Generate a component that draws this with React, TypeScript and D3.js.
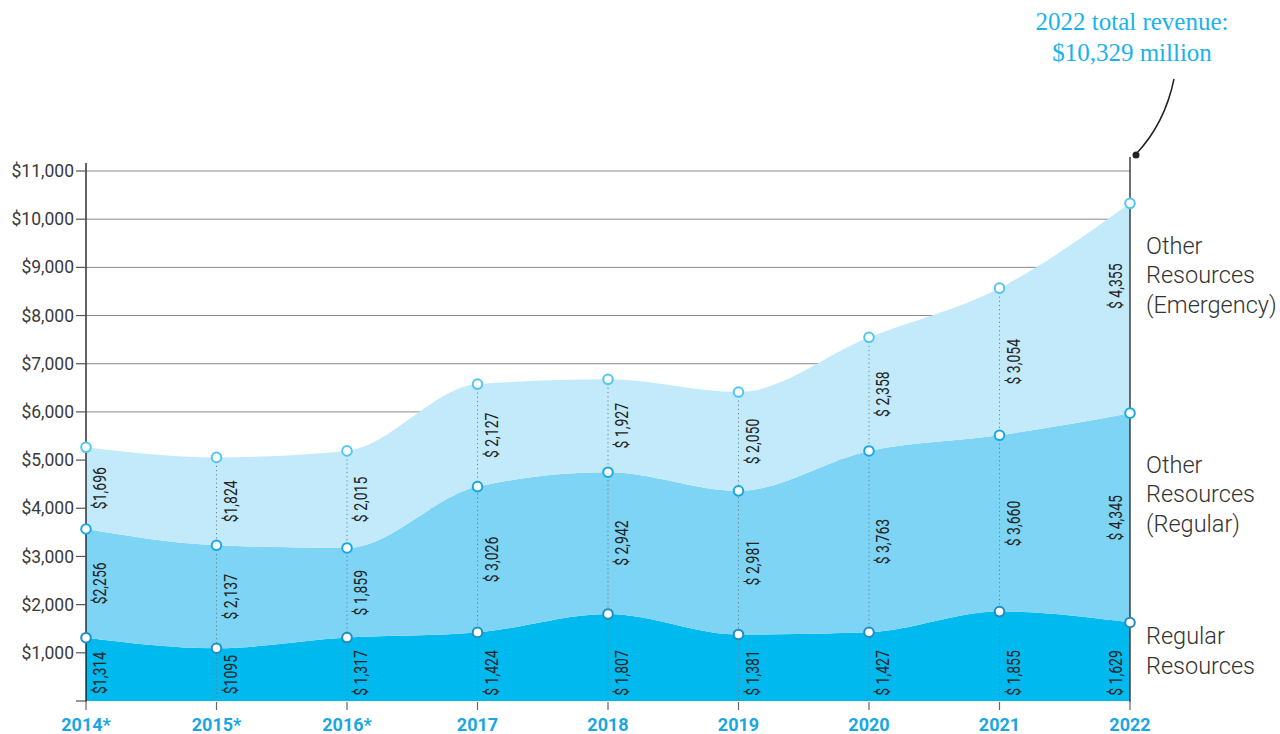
import React from "react";
import * as d3 from "d3";

// values in $ millions
const years = ["2014*", "2015*", "2016*", "2017", "2018", "2019", "2020", "2021", "2022"];
const regular = [1314, 1095, 1317, 1424, 1807, 1381, 1427, 1855, 1629];
const otherRegular = [2256, 2137, 1859, 3026, 2942, 2981, 3763, 3660, 4345];
const otherEmergency = [1696, 1824, 2015, 2127, 1927, 2050, 2358, 3054, 4355];
const yTicks = [0, 1000, 2000, 3000, 4000, 5000, 6000, 7000, 8000, 9000, 10000, 11000];

const seriesNames = ["Regular Resources", "Other Resources (Regular)", "Other Resources (Emergency)"];
const rightLabelLines = [["Regular", "Resources"], ["Other", "Resources", "(Regular)"], ["Other", "Resources", "(Emergency)"]];
const fills = ["#00b9ef", "#7dd4f4", "#c2eafa"];
const markerStrokes = ["#1a8ec6", "#15a8e6", "#4fc7f1"];

const W = 1280, H = 734;
const left = 86, right = 1130, top = 171, bottom = 701;

export default function App() {
  const x = d3.scalePoint<string>().domain(years).range([left, right]);
  const y = d3.scaleLinear().domain([0, 11000]).range([bottom, top]);

  const rows = years.map((yr, i) => ({ year: yr, r0: regular[i], r1: otherRegular[i], r2: otherEmergency[i] }));
  const stack = d3.stack<any>().keys(["r0", "r1", "r2"]);
  const layers = stack(rows);

  const area = d3.area<any>()
    .x((d) => x(d.data.year)!)
    .y0((d) => y(d[0]))
    .y1((d) => y(d[1]))
    .curve(d3.curveMonotoneX);

  const fmt = d3.format(",");
  const label = (v: number, li: number, i: number) => {
    if (i === 0) return "$" + fmt(v);
    if (i === 1 && li === 0) return "$" + v; // printed without comma
    if (i === 1 && li === 2) return "$" + fmt(v);
    return "$ " + fmt(v);
  };

  const total = layers[2].map((d) => d[1]);
  const n = years.length;
  const lastX = x(years[n - 1])!;

  // vertical centre of the right-hand series labels
  const rightLabelY = [651, 494, 275];

  return (
    <svg width={W} height={H} style={{ position: "absolute", left: 0, top: 0 }}>
      {/* grid */}
      {yTicks.filter((t) => t > 0).map((t) => (
        <line key={t} x1={left} x2={right} y1={y(t)} y2={y(t)} stroke="#8a8a8a" strokeWidth={1} />
      ))}

      {/* stacked areas */}
      {layers.map((layer, li) => (
        <path key={li} d={area(layer) || ""} fill={fills[li]} />
      ))}

      {/* dotted year guides */}
      {years.map((yr, i) =>
        i > 0 && i < n - 1 ? (
          <line key={yr} x1={x(yr)} x2={x(yr)} y1={y(total[i])} y2={bottom}
            stroke="#6f7f88" strokeWidth={1} strokeDasharray="1.2,3" />
        ) : null
      )}

      {/* axes */}
      <line x1={left} x2={left} y1={163} y2={bottom + 1} stroke="#111" strokeWidth={1.3} />
      <line x1={right} x2={right} y1={157} y2={bottom + 1} stroke="#222" strokeWidth={1.3} />
      {yTicks.map((t) => (
        <g key={t}>
          <line x1={left - 10} x2={left} y1={y(t)} y2={y(t)} stroke="#555" strokeWidth={1.2} />
          {t > 0 && (
            <text x={left - 12} y={y(t)} dy="0.35em" textAnchor="end" fontFamily="Roboto" fontSize={17.5} fill="#3a3a3a">
              {"$" + fmt(t)}
            </text>
          )}
        </g>
      ))}
      {years.map((yr) => (
        <g key={yr}>
          <line x1={x(yr)} x2={x(yr)} y1={bottom + 1} y2={bottom + 9} stroke="#666" strokeWidth={1.2} />
          <text x={x(yr)} y={731} textAnchor="middle" fontFamily="Roboto" fontWeight={700} fontSize={18} fill="#1aa6e4">
            {yr}
          </text>
        </g>
      ))}

      {/* value labels */}
      {layers.map((layer, li) =>
        layer.map((d, i) => {
          const cx = x(years[i])! + (i === n - 1 ? -14 : 14);
          let cy = (y(d[0]) + y(d[1])) / 2;
          if (li === 0) cy = Math.max(cy, bottom - 28);
          if (li === 2 && i === n - 1) cy -= 22;
          const v = d[1] - d[0];
          return (
            <text key={li + "-" + i} transform={`translate(${cx},${cy}) rotate(-90) scale(0.8,1)`}
              textAnchor="middle" dy="0.35em" fontFamily="Roboto" fontSize={17.5} fill="#222">
              {label(v, li, i)}
            </text>
          );
        })
      )}

      {/* markers */}
      {layers.map((layer, li) =>
        layer.map((d, i) => (
          <circle key={"m" + li + "-" + i} cx={x(years[i])} cy={y(d[1])} r={4.8}
            fill="#fff" stroke={markerStrokes[li]} strokeWidth={2} />
        ))
      )}

      {/* right-side series labels */}
      {rightLabelLines.map((lines, li) => (
        <text key={"rl" + li} x={1146} y={rightLabelY[li] - ((lines.length - 1) * 29.5) / 2}
          fontFamily="Roboto" fontWeight={300} fontSize={23.5} fill="#333" aria-label={seriesNames[li]}>
          {lines.map((t, k) => (
            <tspan key={k} x={1146} dy={k === 0 ? "0.35em" : 29.5}>{t}</tspan>
          ))}
        </text>
      ))}

      {/* callout */}
      <text x={1132} y={30} textAnchor="middle" fontFamily="Liberation Serif" fontSize={25} fill="#1ab2ea">
        {`${years[n - 1]} total revenue:`}
      </text>
      <text x={1132} y={61} textAnchor="middle" fontFamily="Liberation Serif" fontSize={25} fill="#1ab2ea">
        {`$${fmt(total[n - 1])} million`}
      </text>
      <path d={`M1174,79 C1168,108 1155,134 ${lastX + 6},154`} fill="none" stroke="#222" strokeWidth={1.5} />
      <circle cx={lastX + 6} cy={155} r={3.5} fill="#222" />
    </svg>
  );
}
